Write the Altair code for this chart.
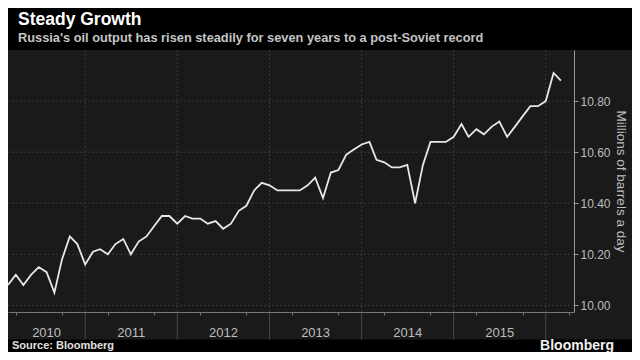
import altair as alt
import pandas as pd

# ---- data (monthly, Mar 2010 - Mar 2016) ----
start_month = "2010-03-01"
output_2010 = [10.08, 10.12, 10.08, 10.12, 10.15, 10.13, 10.05, 10.18, 10.27, 10.24]  # Mar-Dec
output_2011 = [10.16, 10.21, 10.22, 10.20, 10.24, 10.26, 10.20, 10.25, 10.27, 10.31, 10.35, 10.35]
output_2012 = [10.32, 10.35, 10.34, 10.34, 10.32, 10.33, 10.30, 10.32, 10.37, 10.39, 10.45, 10.48]
output_2013 = [10.47, 10.45, 10.45, 10.45, 10.45, 10.47, 10.50, 10.42, 10.52, 10.53, 10.59, 10.61]
output_2014 = [10.63, 10.64, 10.57, 10.56, 10.54, 10.54, 10.55, 10.40, 10.55, 10.64, 10.64, 10.64]
output_2015 = [10.66, 10.71, 10.66, 10.69, 10.67, 10.70, 10.72, 10.66, 10.70, 10.74, 10.78, 10.78]
output_2016 = [10.80, 10.91, 10.88]  # Jan-Mar

values = output_2010 + output_2011 + output_2012 + output_2013 + output_2014 + output_2015 + output_2016
dates = pd.date_range(start_month, periods=len(values), freq="MS").strftime("%Y-%m-%d").tolist()

year_labels = ["2010", "2011", "2012", "2013", "2014", "2015"]
year_boundaries = ["2011", "2012", "2013", "2014", "2015", "2016"]
y_ticks = [10.0, 10.1, 10.2, 10.3, 10.4, 10.5, 10.6, 10.7, 10.8, 10.9]
y_grid = [10.0, 10.2, 10.4, 10.6, 10.8]

TITLE = "Steady Growth"
SUBTITLE = "Russia's oil output has risen steadily for seven years to a post-Soviet record"
Y_TITLE = "Millions of barrels a day"
SOURCE = "Source: Bloomberg"
BRAND = "Bloomberg"

x_start = pd.Timestamp("2010-03-01")
x_end = pd.Timestamp("2016-04-22")

df = pd.DataFrame({"date": dates, "value": values})

# year label positions: centre of the visible part of each year
lab_rows = []
for y in year_labels:
    a = max(pd.Timestamp(f"{y}-01-01"), x_start)
    b = min(pd.Timestamp(f"{int(y)+1}-01-01"), x_end)
    mid = a + (b - a) / 2
    lab_rows.append({"d": mid.strftime("%Y-%m-%dT%H:%M:%S"), "label": y})
lab_df = pd.DataFrame(lab_rows)
sep_df = pd.DataFrame({"d": [f"{y}-01-01" for y in year_boundaries]})
grid_df = pd.DataFrame({"g": y_grid})

quarter_ticks = [alt.DateTime(year=int(d[:4]), month=int(d[5:7]), date=1, utc=True)
                 for d in pd.date_range("2010-04-01", "2016-04-01", freq="QS").strftime("%Y-%m-%d")]

W, H = 566, 262
RIGHT = 58
BAND = 27.4
FONT = "Liberation Sans"

xscale = alt.Scale(type="utc", domain=[alt.DateTime(year=2010, month=3, date=1, utc=True),
                                        alt.DateTime(year=2016, month=4, date=22, utc=True)])
yscale = alt.Scale(domain=[9.974, 11.0], nice=False, zero=False)

one = alt.Data(values=[{}])

bg = alt.Chart(one).mark_rect(color="#1a1a1a").encode(
    x=alt.value(0), x2=alt.value(W + RIGHT), y=alt.value(0), y2=alt.value(H + BAND))

hgrid = alt.Chart(grid_df).mark_rule(color="#3a3a3a", strokeDash=[2, 2], strokeWidth=1).encode(
    y=alt.Y("g:Q", scale=yscale))

vgrid = alt.Chart(sep_df).mark_rule(color="#3a3a3a", strokeDash=[2, 2], strokeWidth=1).encode(
    x=alt.X("d:T", scale=xscale))

sep = alt.Chart(sep_df).mark_rule(color="#4a4a4a", strokeWidth=1).encode(
    x=alt.X("d:T", scale=xscale), y=alt.value(H), y2=alt.value(H + BAND))

line = alt.Chart(df).mark_line(color="#e8e8e8", strokeWidth=1.8).encode(
    x=alt.X("date:T", scale=xscale,
            axis=alt.Axis(title=None, labels=False, values=quarter_ticks, tickSize=3,
                          tickColor="#777777", domainColor="#777777", grid=False, zindex=1)),
    y=alt.Y("value:Q", scale=yscale,
            axis=alt.Axis(orient="right", values=y_ticks, grid=False, zindex=1,
                          labelExpr="round(datum.value*10) % 2 == 0 ? format(datum.value, '.2f') : ''",
                          labelOverlap=False, labelFont=FONT, labelFontSize=12, labelColor="#bdbdbd",
                          labelPadding=2, tickSize=4, tickColor="#999999", domainColor="#999999",
                          title=Y_TITLE, titleAngle=90, titleFont=FONT, titleFontSize=13.5,
                          titleFontWeight="normal", titleColor="#bdbdbd", titlePadding=3)))

ylab = alt.Chart(lab_df).mark_text(color="#bdbdbd", font=FONT, fontSize=13, baseline="middle").encode(
    x=alt.X("d:T", scale=xscale), y=alt.value(H + 20.5), text="label:N")

src = alt.Chart(one).mark_text(text=SOURCE, color="#e0e0e0", font=FONT, fontSize=11, fontWeight="bold",
                               align="left", baseline="middle").encode(
    x=alt.value(4), y=alt.value(H + 34.4))

brand = alt.Chart(one).mark_text(text=BRAND, color="#f0f0f0", font=FONT, fontSize=14, fontWeight="bold",
                                 align="right", baseline="middle").encode(
    x=alt.value(W + 40), y=alt.value(H + 34.4))

chart = alt.layer(bg, hgrid, vgrid, sep, line, ylab, src, brand).properties(
    width=W, height=H,
    autosize=alt.AutoSizeParams(type="none"),
    padding={"left": 0, "top": 42, "right": RIGHT, "bottom": 40},
    background="#000000",
    title=alt.TitleParams(text=TITLE, subtitle=SUBTITLE, anchor="start", frame="group",
                          color="#ffffff", subtitleColor="#c4c4c4", font=FONT, subtitleFont=FONT,
                          fontSize=17.5, subtitleFontSize=12.8, fontWeight="bold",
                          subtitleFontWeight="bold", offset=5, dx=10, subtitlePadding=3),
).configure_view(stroke=None)

chart.save("out.html", embed_options={"renderer": "svg", "actions": False})
